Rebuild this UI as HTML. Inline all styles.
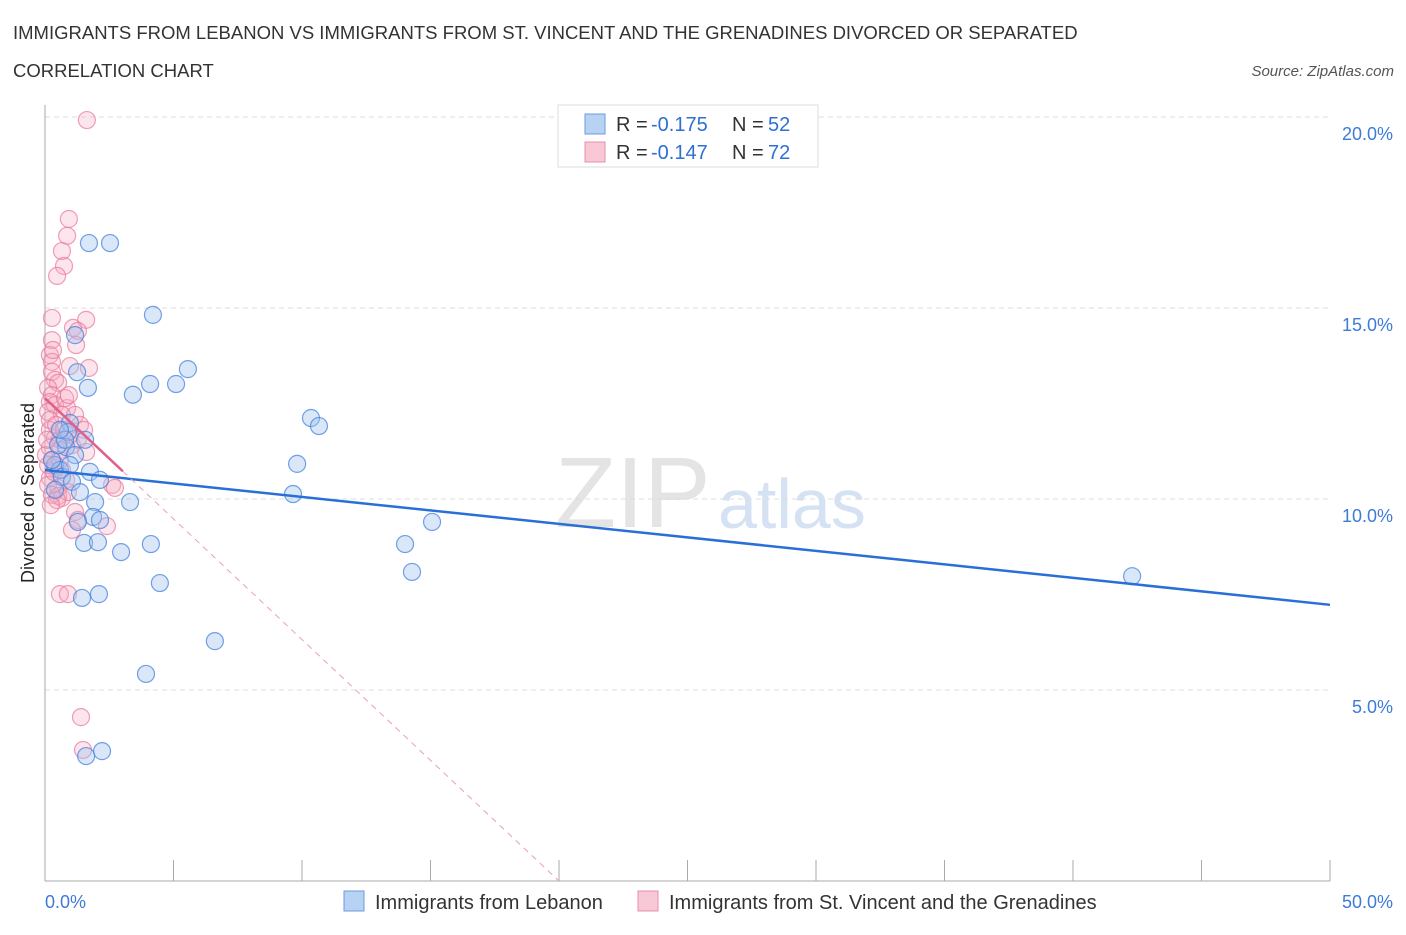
<!DOCTYPE html>
<html><head><meta charset="utf-8"><style>
body{margin:0;background:#fff;font-family:"Liberation Sans",sans-serif;}
svg text{font-family:"Liberation Sans",sans-serif;}
</style></head><body>
<svg id="chart" width="1406" height="930">
<text x="13" y="39" font-size="18.5" fill="#333">IMMIGRANTS FROM LEBANON VS IMMIGRANTS FROM ST. VINCENT AND THE GRENADINES DIVORCED OR SEPARATED</text>
<text x="13" y="77" font-size="18.5" fill="#333">CORRELATION CHART</text>
<text x="1394" y="76" font-size="15" fill="#555" font-style="italic" text-anchor="end">Source: ZipAtlas.com</text>
<text x="555" y="527" font-size="100" fill="#e4e4e4" font-family="Liberation Serif">ZIP</text>
<text x="718" y="528" font-size="70" fill="#d4e2f4">atlas</text>
<g id="grid"></g><g id="axes"></g><g id="marks"></g>
<text transform="translate(34,493) rotate(-90)" font-size="18" fill="#222" text-anchor="middle">Divorced or Separated</text>
<g>
<rect x="558" y="105" width="260" height="62" fill="#fff" stroke="#ddd"/>
<rect x="585" y="114" width="20" height="20" fill="#b8d2f4" stroke="#6a9be0"/>
<text x="616" y="131" font-size="20" fill="#333">R =</text>
<text x="651" y="131" font-size="20" fill="#2f6fd4">-0.175</text>
<text x="732" y="131" font-size="20" fill="#333">N =</text>
<text x="768" y="131" font-size="20" fill="#2f6fd4">52</text>
<rect x="585" y="142" width="20" height="20" fill="#f9c8d6" stroke="#e890a8"/>
<text x="616" y="159" font-size="20" fill="#333">R =</text>
<text x="651" y="159" font-size="20" fill="#2f6fd4">-0.147</text>
<text x="732" y="159" font-size="20" fill="#333">N =</text>
<text x="768" y="159" font-size="20" fill="#2f6fd4">72</text>
</g>
<g>
<rect x="344" y="891" width="20" height="20" fill="#b8d2f4" stroke="#6a9be0"/>
<text x="375" y="909" font-size="20" fill="#333">Immigrants from Lebanon</text>
<rect x="638" y="891" width="20" height="20" fill="#f9c8d6" stroke="#e890a8"/>
<text x="669" y="909" font-size="20" fill="#333">Immigrants from St. Vincent and the Grenadines</text>
</g>
</svg>
<script>
const yTicks=[5,10,15,20];
const yTickLabels=["5.0%","10.0%","15.0%","20.0%"];
const xTicks=[0,5,10,15,20,25,30,35,40,45,50];
const blueX=[1.71,2.53,4.20,1.17,5.56,1.25,4.09,5.10,1.67,3.42,10.35,10.66,0.97,0.89,0.82,9.81,0.39,0.58,1.75,0.66,2.14,1.05,1.36,9.65,3.31,1.95,1.87,15.06,1.28,1.52,2.06,4.12,14.01,2.96,14.28,4.47,2.10,1.44,6.61,3.93,2.22,1.60,42.30,0.27,0.51,0.78,1.17,1.56,0.97,0.58,0.39,2.14];
const blueY=[16.70,16.70,14.82,14.29,13.40,13.32,13.01,13.01,12.91,12.73,12.12,11.91,11.99,11.75,11.36,10.92,10.89,10.76,10.71,10.58,10.50,10.45,10.18,10.13,9.92,9.92,9.53,9.40,9.40,8.85,8.87,8.82,8.82,8.61,8.09,7.80,7.51,7.41,6.28,5.42,3.40,3.27,7.98,11.02,11.41,11.55,11.15,11.55,10.89,11.81,10.24,9.45];
const pinkX=[1.63,0.93,0.86,0.66,0.74,0.47,0.27,1.60,1.09,1.28,0.27,1.21,0.19,0.27,1.71,0.97,0.27,0.39,0.51,0.12,0.27,0.19,0.39,0.86,0.12,0.66,1.17,1.36,1.52,0.19,0.39,0.58,1.05,1.28,0.19,0.58,1.60,0.27,0.39,0.66,0.19,0.12,0.51,2.61,2.72,0.27,0.51,0.66,0.89,1.17,1.28,2.41,1.05,0.58,0.89,1.40,1.48,0.19,0.43,0.74,0.97,0.12,0.35,0.82,0.47,0.23,0.04,0.08,0.58,0.78,0.31,0.93];
const pinkY=[19.92,17.33,16.89,16.49,16.10,15.84,14.74,14.69,14.48,14.40,14.16,14.03,13.77,13.59,13.43,13.48,13.33,13.12,13.04,12.91,12.72,12.54,12.46,12.38,12.28,12.20,12.20,11.94,11.81,11.81,11.60,11.55,11.41,11.55,11.34,11.28,11.23,11.02,10.81,10.76,10.55,10.37,10.29,10.37,10.29,10.11,10.08,10.03,10.18,9.66,9.45,9.29,9.19,7.51,7.51,4.29,3.43,12.07,11.94,11.81,11.68,10.89,10.71,10.50,9.97,9.84,11.15,11.55,11.02,12.64,13.90,12.72];
const blueTrend=[10.76,7.23];
const pinkTrend=[12.64,-0.0632];
const NS="http://www.w3.org/2000/svg";
const X=v=>45+v*25.7, Y=v=>881-v*38.2;
function mk(tag,attrs,parent){const e=document.createElementNS(NS,tag);for(const k in attrs)e.setAttribute(k,attrs[k]);document.getElementById(parent).appendChild(e);return e;}
yTicks.forEach((t,i)=>{
 const l=mk('line',{x1:45,x2:1330,y1:Y(t),y2:Y(t),stroke:'#ddd','stroke-dasharray':'5,4'},'grid');
 
 
 const tx=mk('text',{x:1393,y:Y(t)+23,'font-size':18,fill:'#3d7bd9','text-anchor':'end'},'grid');
 tx.textContent=yTickLabels[i];
 
 
});
const ax=mk('line',{x1:45,x2:45,y1:105,y2:881,stroke:'#aaa'},'axes');


const bx=mk('line',{x1:45,x2:1330,y1:881,y2:881,stroke:'#aaa'},'axes');


xTicks.forEach(t=>{
 const l=mk('line',{x1:X(t),x2:X(t),y1:860,y2:881,stroke:'#aaa'},'axes');
 
 
});
const xl0=mk('text',{x:45,y:908,'font-size':18,fill:'#3d7bd9'},'axes');xl0.textContent='0.0%';


const xl1=mk('text',{x:1393,y:908,'font-size':18,fill:'#3d7bd9','text-anchor':'end'},'axes');xl1.textContent='50.0%';


pinkX.forEach((x,i)=>{
 const c=mk('circle',{cx:X(x),cy:Y(pinkY[i]),r:8.5,fill:'rgba(246,170,192,0.3)',stroke:'rgba(232,120,155,0.7)','stroke-width':1.2},'marks');
 
 
});
blueX.forEach((x,i)=>{
 const c=mk('circle',{cx:X(x),cy:Y(blueY[i]),r:8.5,fill:'rgba(160,195,240,0.4)',stroke:'rgba(70,130,220,0.75)','stroke-width':1.2},'marks');
 
 
});
const bl=mk('line',{x1:X(0),y1:Y(blueTrend[0]),x2:X(50),y2:Y(blueTrend[1]),stroke:'#2a6fd6','stroke-width':2.5},'marks');


const pEnd=3.03;
const pd=mk('line',{x1:X(pEnd),y1:Y(pinkTrend[0]+pinkTrend[1]*pEnd*10),x2:X(20),y2:Y(pinkTrend[0]+pinkTrend[1]*200),stroke:'#e8a0b4','stroke-width':1,'stroke-dasharray':'6,5'},'marks');


const pl=mk('line',{x1:X(0),y1:Y(pinkTrend[0]),x2:X(pEnd),y2:Y(pinkTrend[0]+pinkTrend[1]*pEnd*10),stroke:'#e0608a','stroke-width':2.5},'marks');


</script>
</body></html>
